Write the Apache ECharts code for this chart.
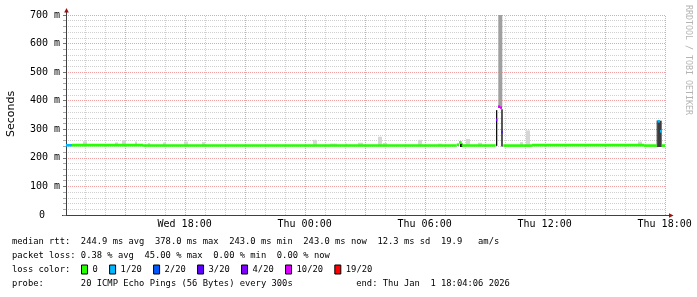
<!DOCTYPE html>
<html><head><meta charset="utf-8">
<script src="https://cdn.jsdelivr.net/npm/echarts@6/dist/echarts.min.js"></script>
<style>html,body{margin:0;padding:0;background:#fff}#c{width:697px;height:297px}</style>
</head><body><div id="c"></div>
<script>
// x values are hours since Wed 00:00
const startHour = 12.0683;   // Wed 12:04:06
const endHour = 42.0683;     // Thu 18:04:06
const xLabelValues = [18, 24, 30, 36, 42];
const xLabelTexts = ['Wed 18:00', 'Thu 00:00', 'Thu 06:00', 'Thu 12:00', 'Thu 18:00'];
const hourGrid = [13,14,15,16,17,18,19,20,21,22,23,24,25,26,27,28,29,30,31,32,33,34,35,36,37,38,39,40,41,42];
const yTicks = [0, 100, 200, 300, 400, 500, 600, 700];
const yLabelTexts = ['0', '100 m', '200 m', '300 m', '400 m', '500 m', '600 m', '700 m'];

const lossLevels = ['0', '1/20', '2/20', '3/20', '4/20', '10/20', '19/20'];
const lossColors = ['#26ff00', '#00b8ff', '#0059ff', '#5e00ff', '#7e00ff', '#dd00ff', '#ff0000'];

// median rtt (ms): [fromHour, toHour, ms, lossLevelIndex]
const medianSegments = [
  [12.068, 12.368, 244, 1],
  [12.368, 15.918, 244.5, 0],
  [15.918, 31.603, 243, 0],
  [31.603, 31.718, 246, 0],
  [31.718, 31.853, 254, 0],
  [31.853, 33.553, 243, 0],
  [33.568, 33.633, 333, 4],
  [33.668, 33.768, 379, 5],
  [33.768, 33.868, 376, 5],
  [33.833, 33.903, 290, 3],
  [33.933, 35.368, 243, 0],
  [35.368, 40.968, 244.5, 0],
  [40.968, 41.603, 243, 0],
  [41.653, 41.768, 328, 1],
  [41.768, 41.868, 293, 1],
  [41.868, 42.018, 243, 0]
];

// smoke (ping spread, ms): [fromHour, toHour, low, high, shadeIndex]
const smokeShades = ['#d6d6d6', '#a0a0a0', '#3c3c3c', '#101010'];
const smokeSegments = [
  [12.918, 13.118, 240, 258, 0],
  [14.518, 14.668, 240, 254, 0],
  [14.868, 15.068, 240, 262, 0],
  [15.518, 15.618, 240, 257, 0],
  [16.168, 16.268, 240, 252, 0],
  [16.918, 17.068, 240, 254, 0],
  [17.968, 18.168, 240, 257, 0],
  [18.868, 19.018, 240, 255, 0],
  [24.418, 24.618, 240, 263, 0],
  [25.268, 25.618, 240, 250, 0],
  [26.018, 26.118, 240, 250, 0],
  [26.668, 26.918, 240, 253, 0],
  [27.668, 27.868, 240, 274, 0],
  [27.918, 28.118, 240, 252, 0],
  [29.668, 29.868, 240, 263, 0],
  [30.668, 30.868, 240, 250, 0],
  [32.068, 32.268, 240, 266, 0],
  [32.668, 32.868, 240, 253, 0],
  [34.768, 34.918, 240, 255, 0],
  [35.068, 35.268, 240, 296, 0],
  [40.668, 40.868, 240, 257, 0],
  [33.683, 33.883, 380, 700, 1],
  [33.568, 33.633, 242, 367, 3],
  [33.833, 33.903, 240, 370, 3],
  [31.768, 31.903, 238, 250, 3],
  [41.603, 41.653, 238, 331, 3],
  [41.653, 41.853, 238, 330, 2]
];

const statLines = [
  'median rtt:  244.9 ms avg  378.0 ms max  243.0 ms min  243.0 ms now  12.3 ms sd  19.9   am/s',
  'packet loss: 0.38 % avg  45.00 % max  0.00 % min  0.00 % now',
  'loss color:',
  'probe:       20 ICMP Echo Pings (56 Bytes) every 300s            end: Thu Jan  1 18:04:06 2026'
];
const yAxisTitle = 'Seconds';
const watermark = 'RRDTOOL / TOBI OETIKER';

const MONO = '"DejaVu Sans Mono", monospace';
const chart = echarts.init(document.getElementById('c'), null, {renderer: 'canvas'});

const gridSeries = {
  type: 'custom', name: '_grid', silent: true, z: 1,
  data: hourGrid.map(h => [h]),
  encode: {x: 0},
  renderItem: (params, api) => {
    const h = api.value(0);
    const a = api.coord([h, 0]);
    const b = api.coord([h, 700]);
    const x = Math.round(a[0]) + 0.5;
    const major = h % 3 === 0;
    return {type: 'line', shape: {x1: x, y1: a[1], x2: x, y2: b[1]},
      style: {stroke: major ? '#f0a0a0' : '#d0d0d0', lineWidth: 1, lineDash: [1, 1]}};
  }
};

const smokeSeries = {
  type: 'custom', name: '_smoke', silent: true, z: 2, clip: true,
  data: smokeSegments,
  encode: {x: [0, 1], y: [2, 3]},
  renderItem: (params, api) => {
    const a = api.coord([api.value(0), api.value(3)]);
    const b = api.coord([api.value(1), api.value(2)]);
    return {type: 'rect', shape: {x: a[0], y: a[1], width: b[0] - a[0], height: b[1] - a[1]},
      style: {fill: smokeShades[api.value(4)]}};
  }
};

const medianSeries = lossLevels.map((name, li) => ({
  type: 'custom', name: name, z: 4, clip: true,
  itemStyle: {color: lossColors[li]},
  data: medianSegments.filter(s => s[3] === li).map(s => [s[0], s[1], s[2]]),
  encode: {x: [0, 1], y: 2},
  renderItem: (params, api) => {
    const a = api.coord([api.value(0), api.value(2)]);
    const b = api.coord([api.value(1), api.value(2)]);
    return {type: 'rect', shape: {x: a[0], y: a[1] - 1.3, width: b[0] - a[0], height: 2.6},
      style: {fill: lossColors[li]}};
  }
}));

const axisColor = '#404040';
const arrowColor = '#9a1010';

const graphics = [
  {type: 'text', x: 11, y: 114, rotation: Math.PI / 2,
    style: {text: yAxisTitle, font: '11px "DejaVu Sans"', fill: '#000', align: 'center', verticalAlign: 'middle'}},
  {type: 'text', x: 688, y: 60, rotation: -Math.PI / 2,
    style: {text: watermark, font: '8.3px ' + MONO, fill: '#b4b4b4', align: 'center', verticalAlign: 'middle'}},
  {type: 'line', shape: {x1: 66.5, y1: 15, x2: 66.5, y2: 12}, style: {stroke: axisColor, lineWidth: 1}},
  {type: 'polygon', shape: {points: [[64.2, 12.6], [68.8, 12.6], [66.5, 8]]}, style: {fill: arrowColor}},
  {type: 'line', shape: {x1: 62, y1: 215.5, x2: 669, y2: 215.5}, style: {stroke: axisColor, lineWidth: 1}},
  {type: 'polygon', shape: {points: [[669, 213.2], [669, 217.8], [673.6, 215.5]]}, style: {fill: arrowColor}}
];
const statY = [241.7, 255.3, 269.3, 283.3];
statLines.forEach((t, i) => {
  graphics.push({type: 'text', x: 12, y: statY[i],
    style: {text: t, font: '8.8px ' + MONO, fill: '#000', align: 'left', verticalAlign: 'middle'}});
});

chart.setOption({
  animation: false,
  backgroundColor: '#ffffff',
  grid: {left: 66, top: 15, width: 600, height: 200, containLabel: false},
  legend: {
    left: 81, top: 264, orient: 'horizontal', padding: 0,
    itemWidth: 6, itemHeight: 9, itemGap: 11.3, icon: 'rect', selectedMode: false,
    itemStyle: {borderColor: '#000', borderWidth: 1},
    textStyle: {fontFamily: MONO, fontSize: 8.8, color: '#000', lineHeight: 11},
    data: lossLevels
  },
  xAxis: {
    type: 'value', min: startHour, max: endHour,
    axisLine: {show: true, lineStyle: {color: axisColor}},
    axisTick: {show: false},
    splitLine: {show: false},
    axisLabel: {
      customValues: xLabelValues,
      formatter: v => xLabelTexts[xLabelValues.indexOf(v)],
      fontFamily: MONO, fontSize: 10, color: '#000', margin: 4
    }
  },
  yAxis: {
    type: 'value', min: 0, max: 700, interval: 100,
    axisLine: {show: true, lineStyle: {color: axisColor}},
    axisTick: {show: true, length: 3, lineStyle: {color: '#777'}},
    minorTick: {show: true, splitNumber: 5, length: 3, lineStyle: {color: '#aaa'}},
    splitLine: {show: true, lineStyle: {color: '#f0a0a0', type: [1, 1]}},
    minorSplitLine: {show: true, lineStyle: {color: '#d0d0d0', type: [1, 1]}},
    axisLabel: {
      fontFamily: MONO, fontSize: 10, color: '#000', margin: 6,
      formatter: v => { const t = yLabelTexts[yTicks.indexOf(v)]; return v === 0 ? '{z|' + t + '}' : t; },
      rich: {z: {fontFamily: MONO, fontSize: 10, color: '#000', padding: [0, 15, 0, 0]}}
    }
  },
  graphic: graphics,
  series: [gridSeries, smokeSeries].concat(medianSeries)
});
</script>
</body></html>
